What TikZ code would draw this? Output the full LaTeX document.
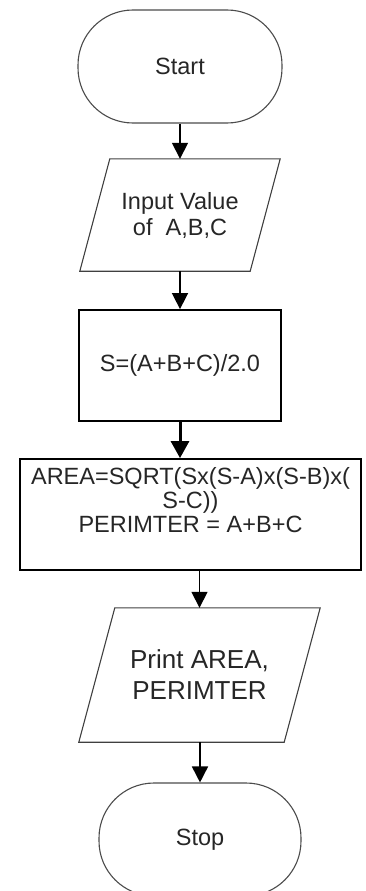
\documentclass[tikz,border=0pt]{standalone}
\usepackage{fontspec}
\setmainfont{Liberation Sans}
\usetikzlibrary{arrows.meta,calc}
\begin{document}
\begin{tikzpicture}[x=1pt,y=-1pt,
  txt/.style={text=black!85, align=center, inner sep=0pt,
    font=\fontsize{23.5}{26}\selectfont},
  termbox/.style={txt, draw=black!70, line width=1.1pt, rounded corners=55pt,
    minimum height=113pt},
  procbox/.style={draw=black, line width=1.8pt, minimum height=111pt, inner sep=0pt},
  iobody/.style={txt, minimum height=112pt},
  ioline/.style={draw=black!75, line width=1.1pt},
  flow/.style={draw=black, line width=1.6pt, -{Triangle[length=16pt,width=16pt]}},
  flowbold/.style={draw=black, line width=3pt, -{Triangle[length=17pt,width=18pt]}}
]
\useasboundingbox (0,0) rectangle (365,891);
\clip (0,0) rectangle (365,891);

% terminal: start
\node[termbox, minimum width=204pt] (start) at (180,66.5) {Start};

% input parallelogram
\node[iobody, minimum width=200pt] (input) at (180,215) {Input Value\\of~~A,B,C};
\draw[ioline] ($(input.north west)+(30,0)$) -- (input.north east)
  -- ($(input.south east)+(-30,0)$) -- (input.south west) -- cycle;

% semi-perimeter
\node[procbox, txt, line width=1.8pt, minimum width=202pt, minimum height=111pt] (semi) at (180,365.5) {S=(A+B+C)/2.0};

% area and perimeter
\node[procbox, minimum width=341pt] (area) at (190.5,514.5) {};
\node[txt, font=\fontsize{23.5}{24}\selectfont] (areatxt) at (190.5,500)
  {AREA=SQRT(Sx(S-A)x(S-B)x(\\S-C))\\PERIMTER = A+B+C};

% output parallelogram
\node[iobody, minimum width=241pt, minimum height=134pt,
  font=\fontsize{26}{31}\selectfont] (print) at (199.5,675) {Print AREA,\\PERIMTER};
\draw[ioline] ($(print.north west)+(36,0)$) -- (print.north east)
  -- ($(print.south east)+(-36,0)$) -- (print.south west) -- cycle;

% terminal: stop
\node[termbox, minimum width=202pt] (stop) at (200,839.5) {Stop};

% connectors
\draw[flow] (start.south -| input.north) -- (input.north);
\draw[flow] (input.south) -- (semi.north);
\draw[flowbold] (semi.south) -- (semi.south |- area.north);
\draw[flow] (area.south -| print.north) -- (print.north);
\draw[flow] (print.south -| stop.north) -- (stop.north);
\end{tikzpicture}
\end{document}
